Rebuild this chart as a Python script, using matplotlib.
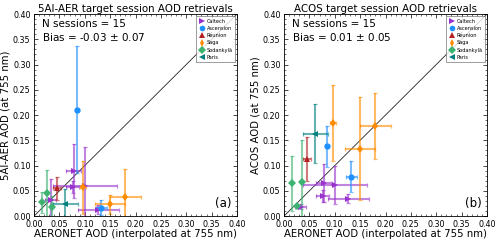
import numpy as np
import matplotlib.pyplot as plt
from matplotlib.ticker import MultipleLocator

# sites, colours, markers
sites = ['Caltech', 'Ascension', 'Réunion', 'Saga', 'Sodankylä', 'Paris']
colors = ['#9932cc', '#1e90ff', '#b22222', '#ff8c00', '#3cb371', '#008080']
markers = ['>', 'o', '^', 'd', 'D', '<']

# AERONET AOD (x) and its error, per site
aer_x = [[0.033, 0.076, 0.078, 0.100, 0.127],
         [0.085, 0.133],
         [0.045],
         [0.097, 0.150, 0.180],
         [0.015, 0.025, 0.035],
         [0.062]]
aer_xerr = [[0.011, 0.012, 0.014, 0.063, 0.041],
            [0.004, 0.010],
            [0.008],
            [0.006, 0.030, 0.030],
            [0.002, 0.003, 0.003],
            [0.024]]

# 5AI-AER retrievals
ai_y = [[0.031, 0.057, 0.089, 0.060, 0.013],
        [0.211, 0.017],
        [0.055],
        [0.057, 0.023, 0.037],
        [0.027, 0.045, 0.018],
        [0.023]]
ai_yerr = [[0.042, 0.012, 0.053, 0.077, 0.009],
           [0.125, 0.015],
           [0.023],
           [0.052, 0.018, 0.056],
           [0.021, 0.046, 0.021],
           [0.030]]

# ACOS retrievals
acos_y = [[0.019, 0.040, 0.065, 0.062, 0.034],
          [0.138, 0.078],
          [0.113],
          [0.185, 0.133, 0.178],
          [0.065, 0.020, 0.068],
          [0.163]]
acos_yerr = [[0.004, 0.012, 0.038, 0.038, 0.009],
             [0.040, 0.031],
             [0.044],
             [0.075, 0.102, 0.065],
             [0.054, 0.004, 0.082],
             [0.058]]

panels = [('5AI-AER target session AOD retrievals', '5AI-AER AOD (at 755 nm)',
           ai_y, ai_yerr, 'Bias = -0.03 $\\pm$ 0.07', '(a)'),
          ('ACOS target session AOD retrievals', 'ACOS AOD (at 755 nm)',
           acos_y, acos_yerr, 'Bias = 0.01 $\\pm$ 0.05', '(b)')]

fig = plt.figure(figsize=(5, 2.42), dpi=100)
fig.patch.set_facecolor('#FFFFFF')
lefts = [0.068, 0.568]

for left, (title, ylab, ys, yerrs, bias, tag) in zip(lefts, panels):
    ax = fig.add_axes([left, 0.107, 0.406, 0.835])
    ax.plot([0, 0.4], [0, 0.4], color='#222222', linewidth=0.6, zorder=1)
    for i in range(len(sites)):
        ax.errorbar(aer_x[i], ys[i], xerr=aer_xerr[i], yerr=yerrs[i],
                    fmt='none', ecolor=colors[i], alpha=0.6,
                    elinewidth=1.5, capsize=1.6, capthick=0.9, zorder=2)
        ax.plot(aer_x[i], ys[i], linestyle='none', marker=markers[i],
                color=colors[i], markersize=4.5, markeredgewidth=0,
                label=sites[i], zorder=3)

    ax.set(xlim=(0, 0.4), ylim=(0, 0.4))
    ax.xaxis.set_major_locator(MultipleLocator(0.05))
    ax.yaxis.set_major_locator(MultipleLocator(0.05))
    ax.xaxis.set_minor_locator(MultipleLocator(0.01))
    ax.yaxis.set_minor_locator(MultipleLocator(0.01))
    ax.tick_params(which='both', direction='in', top=True, right=True,
                   labelsize=5.8, pad=2.5)
    ax.tick_params(which='major', length=3, width=0.5)
    ax.tick_params(which='minor', length=1.5, width=0.4)
    for s in ax.spines.values():
        s.set_linewidth(0.6)
    ax.xaxis.set_major_formatter(plt.FormatStrFormatter('%.2f'))
    ax.yaxis.set_major_formatter(plt.FormatStrFormatter('%.2f'))

    ax.set_title(title, fontsize=7.4, pad=1.5)
    ax.set_xlabel('AERONET AOD (interpolated at 755 nm)', fontsize=7.3, labelpad=0.5)
    ax.set_ylabel(ylab, fontsize=7.3, labelpad=1.5)
    ax.text(0.04, 0.953, 'N sessions = 15', transform=ax.transAxes,
            fontsize=7.5, va='center')
    ax.text(0.04, 0.888, bias, transform=ax.transAxes, fontsize=7.5,
            va='center')
    ax.text(0.975, 0.03, tag, transform=ax.transAxes, fontsize=8.5,
            ha='right', va='bottom')
    ax.legend(loc='upper right', fontsize=3.6, markerscale=0.9,
              handlelength=1.2, handletextpad=0.4, borderpad=0.5,
              labelspacing=0.45, frameon=True, fancybox=False,
              edgecolor='#555555', borderaxespad=0.4).get_frame().set_linewidth(0.5)

fig.savefig('out.png', dpi=100)
